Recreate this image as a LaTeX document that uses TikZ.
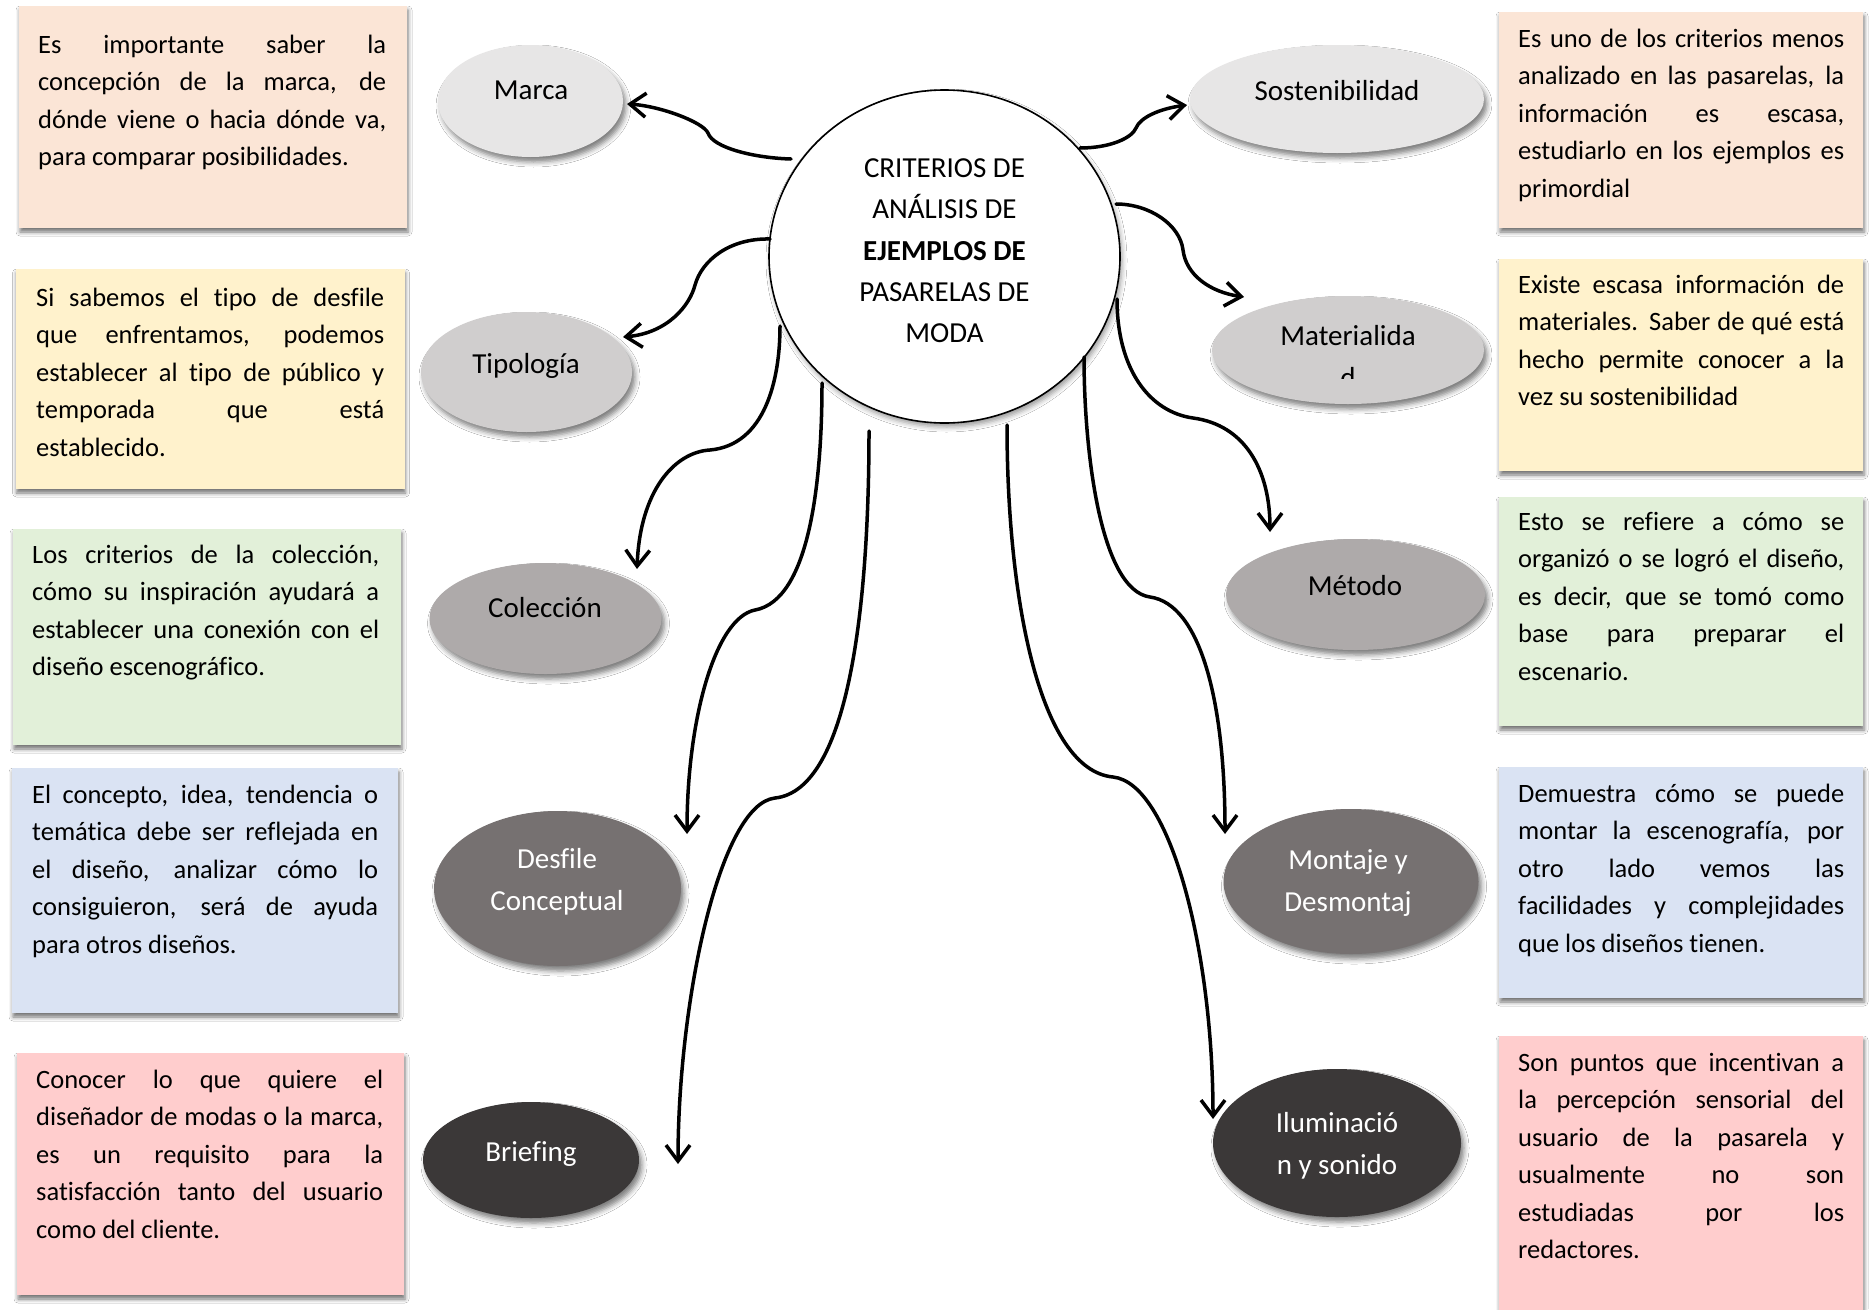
\documentclass[tikz,border=0pt]{standalone}
\usepackage{fontspec}
\setmainfont[Ligatures=NoCommon]{Carlito}
\usetikzlibrary{shapes.geometric,arrows.meta,shadows.blur}

% box fills
\definecolor{peach}{HTML}{FBE5D6}
\definecolor{cream}{HTML}{FFF2CC}
\definecolor{sage}{HTML}{E2F0D9}
\definecolor{sky}{HTML}{DAE3F3}
\definecolor{rose}{HTML}{FFCDCD}
% ellipse greys, light to dark
\definecolor{greyA}{HTML}{E7E6E6}
\definecolor{greyB}{HTML}{D0CECE}
\definecolor{greyC}{HTML}{AEAAAA}
\definecolor{greyD}{HTML}{767171}
\definecolor{greyE}{HTML}{3B3838}

% one justified line of a paragraph
\newcommand\jline[1]{\makebox[\linewidth][s]{#1}}

\tikzset{
  note/.style={rectangle, draw=none, inner sep=0pt,
    blur shadow={shadow xshift=1pt, shadow yshift=-4pt, shadow blur radius=4pt, shadow opacity=55}},
  bubble/.style={ellipse, draw=none, inner sep=0pt,
    blur shadow={shadow xshift=3pt, shadow yshift=-5pt, shadow blur radius=5pt, shadow opacity=50}},
  hubstyle/.style={ellipse, fill=white, draw=black, line width=1.6pt, inner sep=0pt,
    blur shadow={shadow xshift=2pt, shadow yshift=-4pt, shadow blur radius=5pt, shadow opacity=40}},
  bodytext/.style={inner sep=0pt, anchor=base west, font=\fontsize{26.5pt}{37.5pt}\selectfont},
  bubbletext/.style={inner sep=0pt, anchor=base, font=\fontsize{29pt}{42pt}\selectfont},
  conn/.style={line width=3.5pt, line cap=round, line join=round,
    -{Straight Barb[length=16pt,width=24pt]}},
}

\begin{document}
\begin{tikzpicture}[x=1pt,y=-1pt]
\fill[white] (0,0) rectangle (1870,1309);
\useasboundingbox (0,0) rectangle (1870,1309);

% ---------- left notes ----------
\node[note, fill=peach, minimum width=388pt, minimum height=222pt] (nl1) at (213,117) {};
\node[note, fill=cream, minimum width=389pt, minimum height=220pt] (nl2) at (210,379) {};
\node[note, fill=sage,  minimum width=388pt, minimum height=216pt] (nl3) at (207,637) {};
\node[note, fill=sky,   minimum width=386pt, minimum height=245pt] (nl4) at (205,890.5) {};
\node[note, fill=rose,  minimum width=387pt, minimum height=242pt] (nl5) at (210.5,1174) {};

\node[bodytext] (tl1) at (38,53) {\parbox[t]{348pt}{%
\jline{Es importante saber la}\\
\jline{concepción de la marca, de}\\
\jline{dónde viene o hacia dónde va,}\\
para comparar posibilidades.}};

\node[bodytext] (tl2) at (36,306) {\parbox[t]{348pt}{%
\jline{Si sabemos el tipo de desfile}\\
\jline{que enfrentamos, podemos}\\
\jline{establecer al tipo de público y}\\
\jline{temporada que está}\\
establecido.}};

\node[bodytext] (tl3) at (32,563) {\parbox[t]{347pt}{%
\jline{Los criterios de la colección,}\\
\jline{cómo su inspiración ayudará a}\\
\jline{establecer una conexión con el}\\
diseño escenográfico.}};

\node[bodytext] (tl4) at (32,803) {\parbox[t]{346pt}{%
\jline{El concepto, idea, tendencia o}\\
\jline{temática debe ser reflejada en}\\
\jline{el diseño, analizar cómo lo}\\
\jline{consiguieron, será de ayuda}\\
para otros diseños.}};

\node[bodytext] (tl5) at (36,1088) {\parbox[t]{347pt}{%
\jline{Conocer lo que quiere el}\\
\jline{diseñador de modas o la marca,}\\
\jline{es un requisito para la}\\
\jline{satisfacción tanto del usuario}\\
como del cliente.}};

% ---------- right notes ----------
\node[note, fill=peach, minimum width=364pt, minimum height=216pt] (nr1) at (1681,120) {};
\node[note, fill=cream, minimum width=364pt, minimum height=212pt] (nr2) at (1681,365) {};
\node[note, fill=sage,  minimum width=364pt, minimum height=229pt] (nr3) at (1681,611.5) {};
\node[note, fill=sky,   minimum width=364pt, minimum height=231pt] (nr4) at (1681,882.5) {};
\node[note, fill=rose,  minimum width=364pt, minimum height=294pt] (nr5) at (1681,1183) {};

\node[bodytext] (tr1) at (1518,47) {\parbox[t]{326pt}{%
\jline{Es uno de los criterios menos}\\
\jline{analizado en las pasarelas, la}\\
\jline{información es escasa,}\\
\jline{estudiarlo en los ejemplos es}\\
primordial}};

\node[bodytext] (tr2) at (1518,293) {\parbox[t]{326pt}{%
\jline{Existe escasa información de}\\
\jline{materiales. Saber de qué está}\\
\jline{hecho permite conocer a la}\\
vez su sostenibilidad}};

\node[bodytext] (tr3) at (1518,530) {\parbox[t]{326pt}{%
\jline{Esto se refiere a cómo se}\\
\jline{organizó o se logró el diseño,}\\
\jline{es decir, que se tomó como}\\
\jline{base para preparar el}\\
escenario.}};

\node[bodytext] (tr4) at (1518,802) {\parbox[t]{326pt}{%
\jline{Demuestra cómo se puede}\\
\jline{montar la escenografía, por}\\
\jline{otro lado vemos las}\\
\jline{facilidades y complejidades}\\
que los diseños tienen.}};

\node[bodytext] (tr5) at (1518,1071) {\parbox[t]{326pt}{%
\jline{Son puntos que incentivan a}\\
\jline{la percepción sensorial del}\\
\jline{usuario de la pasarela y}\\
\jline{usualmente no son}\\
\jline{estudiadas por los}\\
redactores.}};

% ---------- criteria ellipses ----------
\node[bubble, fill=greyA, minimum width=185pt, minimum height=112pt] (marca) at (530.5,101) {};
\node[bubble, fill=greyA, minimum width=294pt, minimum height=108pt] (sost) at (1337,99) {};
\node[bubble, fill=greyB, minimum width=211pt, minimum height=120pt] (tipo) at (526.5,372) {};
\node[bubble, fill=greyB, minimum width=272pt, minimum height=108pt] (mate) at (1348,350) {};
\node[bubble, fill=greyC, minimum width=232pt, minimum height=111pt] (cole) at (545.5,618.5) {};
\node[bubble, fill=greyC, minimum width=259pt, minimum height=111pt] (meto) at (1355.5,594.5) {};
\node[bubble, fill=greyD, minimum width=247pt, minimum height=155pt] (desf) at (557.5,888.5) {};
\node[bubble, fill=greyD, minimum width=255pt, minimum height=145pt] (mont) at (1351,881.5) {};
\node[bubble, fill=greyE, minimum width=216pt, minimum height=116pt] (brie) at (531,1160) {};
\node[bubble, fill=greyE, minimum width=248pt, minimum height=148pt] (ilum) at (1337,1143) {};

\node[bubbletext] (marca-t) at (531,99) {Marca};
\node[bubbletext] (sost-t) at (1337,100) {Sostenibilidad};
\node[bubbletext] (tipo-t) at (526,373) {Tipología};
\begin{scope}
  \clip (1200,290) rectangle (1500,378);
  \node[bubbletext] (mate-t) at (1348,345) {\parbox[t]{250pt}{\centering Materialida\\d}};
\end{scope}
\node[bubbletext] (cole-t) at (545,617) {Colección};
\node[bubbletext] (meto-t) at (1355,595) {Método};
\node[bubbletext, text=white] (desf-t) at (557,868) {\parbox[t]{240pt}{\centering Desfile\\Conceptual}};
\node[bubbletext, text=white] (mont-t) at (1348,869) {\parbox[t]{240pt}{\centering Montaje y\\Desmontaj}};
\node[bubbletext, text=white] (brie-t) at (531,1161) {Briefing};
\node[bubbletext, text=white] (ilum-t) at (1337,1132) {\parbox[t]{240pt}{\centering Iluminació\\n y sonido}};

% ---------- central topic ----------
\node[hubstyle, minimum width=351pt, minimum height=333pt] (hub) at (944.5,256.5) {};
\node[inner sep=0pt, anchor=base, font=\fontsize{29pt}{41.25pt}\selectfont] (hub-t) at (944.5,177.5)
  {\parbox[t]{330pt}{\centering CRITERIOS DE\\ANÁLISIS DE\\\textbf{EJEMPLOS DE}\\PASARELAS DE\\MODA}};

% ---------- connector ends ----------
\coordinate (s-marca) at (791,159);   \coordinate (e-marca) at (627,104);
\coordinate (s-sost)  at (1080,148);  \coordinate (e-sost)  at (1187,105);
\coordinate (s-tipo)  at (770,239);   \coordinate (e-tipo)  at (623,337);
\coordinate (s-mate)  at (1116,204);  \coordinate (e-mate)  at (1244,297);
\coordinate (s-cole)  at (780,326);   \coordinate (e-cole)  at (637,569);
\coordinate (s-desf)  at (822,383);   \coordinate (e-desf)  at (687,834);
\coordinate (s-brie)  at (869,431);   \coordinate (e-brie)  at (678,1164);
\coordinate (s-ilum)  at (1007,425);  \coordinate (e-ilum)  at (1213,1119);
\coordinate (s-mont)  at (1084,357);  \coordinate (e-mont)  at (1225,834);
\coordinate (s-meto)  at (1117,299);  \coordinate (e-meto)  at (1270,532);

% ---------- connectors ----------
\draw[conn] (s-marca) .. controls (755,158) and (713,148) .. (708,133)
                      .. controls (703,122) and (660,106) .. (e-marca);
\draw[conn] (s-sost) .. controls (1110,148) and (1132,138) .. (1136,128)
                     .. controls (1140,118) and (1158,109) .. (e-sost);
\draw[conn] (s-tipo) .. controls (730,238) and (702,260) .. (695,285)
                     .. controls (690,305) and (668,333) .. (e-tipo);
\draw[conn] (s-mate) .. controls (1150,204) and (1180,225) .. (1183,250)
                     .. controls (1186,275) and (1210,292) .. (e-mate);
\draw[conn] (s-cole) .. controls (780,380) and (765,445) .. (710,450)
                     .. controls (675,452) and (640,490) .. (e-cole);
\draw[conn] (s-desf) .. controls (822,480) and (810,600) .. (755,610)
                     .. controls (715,618) and (687,720) .. (e-desf);
\draw[conn] (s-brie) .. controls (869,600) and (850,790) .. (775,798)
                     .. controls (720,804) and (678,1000) .. (e-brie);
\draw[conn] (s-ilum) .. controls (1007,600) and (1040,770) .. (1113,777)
                     .. controls (1170,783) and (1213,950) .. (e-ilum);
\draw[conn] (s-mont) .. controls (1084,450) and (1100,590) .. (1150,597)
                     .. controls (1200,604) and (1225,700) .. (e-mont);
\draw[conn] (s-meto) .. controls (1117,370) and (1150,412) .. (1193,418)
                     .. controls (1245,425) and (1270,470) .. (e-meto);
\end{tikzpicture}
\end{document}
